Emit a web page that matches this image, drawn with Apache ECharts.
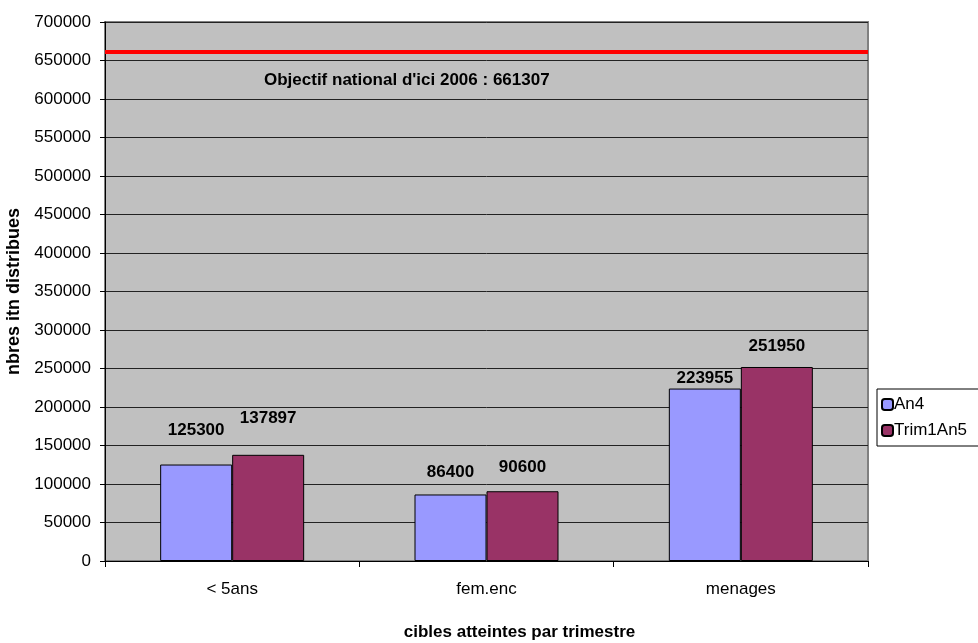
<!DOCTYPE html>
<html>
<head>
<meta charset="utf-8">
<script src="https://cdn.jsdelivr.net/npm/echarts@6/dist/echarts.min.js"></script>
<style>
  html, body { margin: 0; padding: 0; background: #fff; }
  #chart { width: 978px; height: 643px; }
</style>
</head>
<body>
<div id="chart"></div>
<script>
// Data
const categories = ['< 5ans', 'fem.enc', 'menages'];
const an4 = [125300, 86400, 223955];
const trim1An5 = [137897, 90600, 251950];
const objectif = 661307;
const yTicks = { min: 0, max: 700000, interval: 50000 };

// Label offsets above the bars (the labels were moved by hand in the original)
const an4LabelGap = [26, 14, 2];
const trimLabelGap = [28, 15, 12];

const FONT = '"Liberation Sans", Arial, sans-serif';

function withLabels(values, gaps) {
  return values.map((v, i) => ({ value: v, label: { distance: gaps[i] } }));
}

const labelStyle = {
  show: true,
  position: 'top',
  color: '#000',
  fontFamily: FONT,
  fontWeight: 'bold',
  fontSize: 17
};

const chart = echarts.init(document.getElementById('chart'));
chart.setOption({
  animation: false,
  backgroundColor: '#fff',
  textStyle: { fontFamily: FONT },
  grid: {
    left: 105, right: 110, top: 22, bottom: 82,
    outerBoundsMode: 'none',
    containLabel: false,
    show: true,
    backgroundColor: '#C0C0C0',
    borderColor: '#808080',
    borderWidth: 2
  },
  legend: {
    orient: 'vertical',
    left: 877, top: 389,
    itemWidth: 11, itemHeight: 11,
    itemGap: 9,
    padding: [7, 12, 7, 4],
    borderColor: '#000', borderWidth: 1,
    textStyle: { fontFamily: FONT, fontSize: 17, color: '#000', padding: [0, 0, 0, -4] },
    data: ['An4', 'Trim1An5']
  },
  xAxis: {
    type: 'category',
    data: categories,
    name: 'cibles atteintes par trimestre',
    nameLocation: 'middle',
    nameGap: 63,
    nameTextStyle: {
      fontFamily: FONT, fontWeight: 'bold', fontSize: 17, color: '#000',
      padding: [0, 0, 0, 66]
    },
    axisLine: { lineStyle: { color: '#000', width: 1 } },
    axisTick: { show: true, length: 6, lineStyle: { color: '#000' } },
    axisLabel: { color: '#000', fontSize: 17, margin: 20, fontFamily: FONT },
    splitLine: { show: false }
  },
  yAxis: {
    type: 'value',
    min: yTicks.min, max: yTicks.max, interval: yTicks.interval,
    name: 'nbres itn distribues',
    nameLocation: 'middle',
    nameGap: 73,
    nameTextStyle: { fontFamily: FONT, fontWeight: 'bold', fontSize: 18, color: '#000' },
    axisLine: { show: true, lineStyle: { color: '#000', width: 1 } },
    axisTick: { show: true, length: 5, lineStyle: { color: '#000' } },
    axisLabel: {
      color: '#000', fontSize: 17, margin: 14, fontFamily: FONT,
      formatter: v => String(v)
    },
    splitLine: { show: true, lineStyle: { color: '#222', width: 1 } }
  },
  series: [
    {
      name: 'An4',
      type: 'bar',
      barWidth: 72,
      barGap: '0%',
      itemStyle: { color: '#9999FF', borderColor: '#000', borderWidth: 1 },
      label: labelStyle,
      data: withLabels(an4, an4LabelGap),
      markLine: {
        silent: true,
        symbol: 'none',
        label: { show: false },
        lineStyle: { color: '#FF0000', width: 4, type: 'solid' },
        data: [{ yAxis: objectif }]
      }
    },
    {
      name: 'Trim1An5',
      type: 'bar',
      barWidth: 72,
      itemStyle: { color: '#993366', borderColor: '#000', borderWidth: 1 },
      label: labelStyle,
      data: withLabels(trim1An5, trimLabelGap)
    }
  ],
  graphic: [
    {
      type: 'text',
      left: 264,
      top: 72,
      style: {
        text: "Objectif national d'ici 2006 : " + objectif,
        fill: '#000',
        font: 'bold 17px ' + FONT
      }
    }
  ]
});
</script>
</body>
</html>
